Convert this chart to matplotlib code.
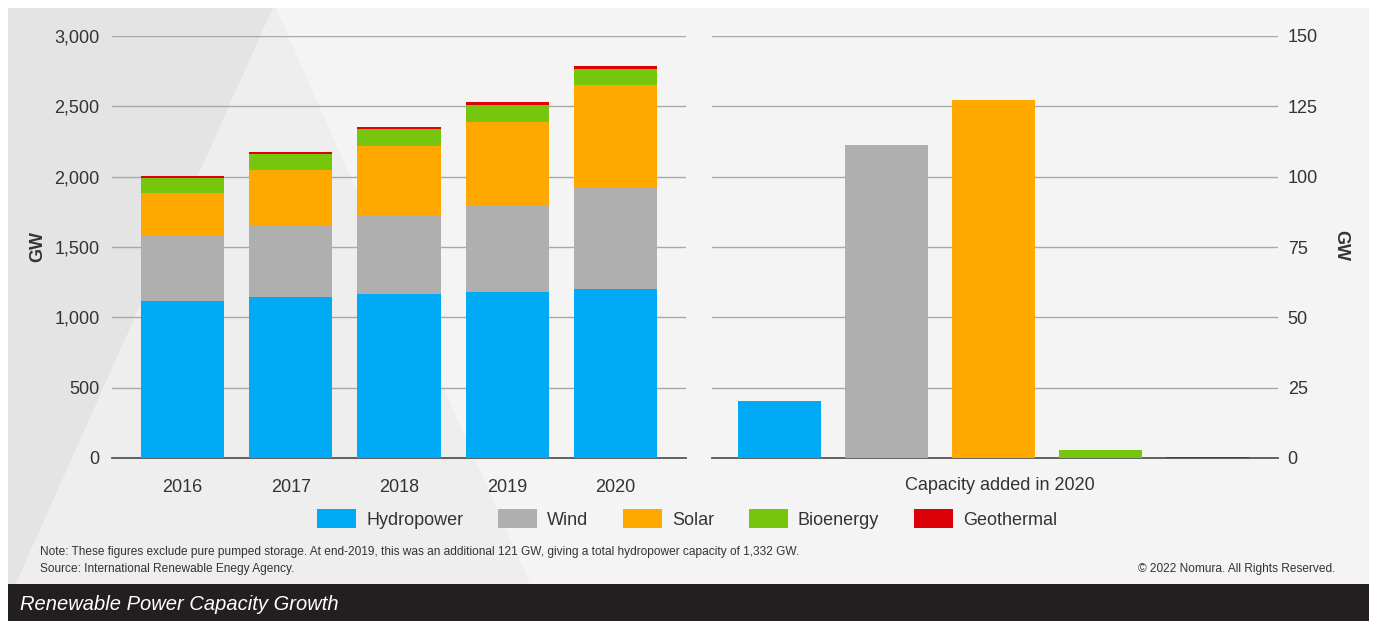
import matplotlib
matplotlib.use("Agg")
import matplotlib.pyplot as plt
import numpy as np
from matplotlib.patches import Patch, Polygon, Rectangle

plt.rcParams['font.family'] = ['Liberation Sans', 'DejaVu Sans']

# data
years = ['2016', '2017', '2018', '2019', '2020']
hydro = [1116, 1145, 1166, 1180, 1201]
wind = [469, 511, 561, 619, 726]
solar = [299, 391, 491, 590, 725]
bio = [106, 114, 121, 120, 113]
geo = [14, 14, 14, 21, 21]

sources = ['Hydropower', 'Wind', 'Solar', 'Bioenergy', 'Geothermal']
added_2020 = [20.3, 111.3, 127.3, 2.8, 0.2]

colors = ['#00aaf5', '#afafaf', '#ffa800', '#77c60e', '#dc0009']

W, H = 1375, 621
fig = plt.figure(figsize=(W / 100, H / 100), dpi=100)
fig.patch.set_facecolor('white')


def px(x, y):
    return (x / W, 1 - y / H)


def rect(x0, y0, x1, y1):
    return [x0 / W, 1 - y1 / H, (x1 - x0) / W, (y1 - y0) / H]


# background panel with faint triangle
fig.add_artist(Rectangle(px(8, 584), 1361 / W, 576 / H, transform=fig.transFigure,
                         facecolor='#f4f4f4', edgecolor='none', zorder=-10))
fig.add_artist(Polygon([px(8, 8), px(273, 8), px(16, 584), px(8, 584)], closed=True,
                       transform=fig.transFigure, facecolor='#e4e4e4',
                       edgecolor='none', zorder=-9))
fig.add_artist(Polygon([px(273, 8), px(276, 8), px(530, 584), px(16, 584)], closed=True,
                       transform=fig.transFigure, facecolor='#eeeeee',
                       edgecolor='none', zorder=-9))
# title bar
fig.add_artist(Rectangle(px(8, 621), 1361 / W, 37 / H, transform=fig.transFigure,
                         facecolor='#231f20', edgecolor='none', zorder=-8))

ax1 = fig.add_axes(rect(112, 36, 686, 458))
ax2 = fig.add_axes(rect(712, 36, 1278, 458))

for ax in (ax1, ax2):
    ax.set_facecolor('none')
    for s in ['top', 'left', 'right']:
        ax.spines[s].set_visible(False)
    ax.spines['bottom'].set_color('#555555')
    ax.spines['bottom'].set_linewidth(1.3)
    ax.grid(axis='y', color='#a8a8a8', linewidth=1.0)
    ax.set_axisbelow(True)
    ax.tick_params(length=0, labelsize=13, colors='#333333')

# left: stacked capacity
x = np.arange(len(years))
bottom = np.zeros(len(years))
for vals, c in zip([hydro, wind, solar, bio, geo], colors):
    ax1.bar(x, vals, 0.77, bottom=bottom, color=c, zorder=3)
    bottom += np.array(vals)
ax1.set_xlim(-0.65, 4.65)
ax1.set_ylim(0, 3000)
ax1.set_yticks(np.arange(0, 3001, 500))
ax1.set_yticklabels([f'{v:,}' for v in range(0, 3001, 500)])
ax1.set_xticks(x)
ax1.set_xticklabels(years)
ax1.tick_params(axis='y', pad=9)
ax1.tick_params(axis='x', pad=15)

# right: added in 2020
x2 = np.arange(len(sources))
ax2.bar(x2, added_2020, 0.776, color=colors, zorder=3)
ax2.set_xlim(-0.63, 4.66)
ax2.set_ylim(0, 150)
ax2.set_yticks(np.arange(0, 151, 25))
ax2.yaxis.tick_right()
ax2.tick_params(axis='y', pad=7)
ax2.set_xticks([])
ax2.text(0.509, -0.066, 'Capacity added in 2020', transform=ax2.transAxes,
         ha='center', va='center', fontsize=13, color='#333333')

# axis titles
fig.text(38 / W, 1 - 246 / H, 'GW', rotation=90, fontsize=13, fontweight='bold',
         color='#333333', ha='center', va='center')
fig.text(1341 / W, 1 - 246 / H, 'GW', rotation=270, fontsize=13, fontweight='bold',
         color='#333333', ha='center', va='center')

handles = [Patch(facecolor=c, edgecolor='none') for c in colors]
fig.legend(handles, sources, loc='center', bbox_to_anchor=px(687, 519), ncol=5,
           frameon=False, fontsize=13, handlelength=2.17, handleheight=1.22,
           handletextpad=0.55, columnspacing=1.92, labelcolor='#333333')

fig.text(40 / W, 1 - 552 / H,
         'Note: These figures exclude pure pumped storage. At end-2019, this was an '
         'additional 121 GW, giving a total hydropower capacity of 1,332 GW.',
         fontsize=8.6, color='#333333', va='center')
fig.text(40 / W, 1 - 569 / H, 'Source: International Renewable Enegy Agency.',
         fontsize=8.6, color='#333333', va='center')
fig.text(1335 / W, 1 - 569 / H, '\u00a9 2022 Nomura. All Rights Reserved.',
         fontsize=8.6, color='#333333', va='center', ha='right')

fig.text(20 / W, 1 - 604 / H, 'Renewable Power Capacity Growth', fontsize=14.5,
         style='italic', color='white', va='center')

fig.savefig('out.png', dpi=100)
